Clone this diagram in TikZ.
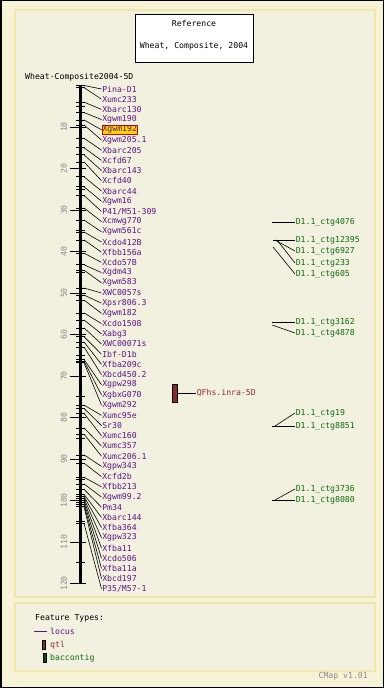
\documentclass[tikz,border=0pt]{standalone}
\usepackage{fontspec}
\setmonofont{DejaVu Sans Mono}
\usetikzlibrary{calc}
\definecolor{bgout}{HTML}{F5F2D6}
\definecolor{bgin}{HTML}{F2F1DF}
\definecolor{panelborder}{HTML}{F0E8A8}
\definecolor{locusc}{HTML}{5A1488}
\definecolor{qtlc}{HTML}{8A2C2C}
\definecolor{bacc}{HTML}{0E6A0E}
\definecolor{scalec}{HTML}{8C8C8C}
\definecolor{hlfill}{HTML}{FFD400}
\begin{document}
\begin{tikzpicture}[x=1bp,y=-1bp,
  font=\ttfamily\fontsize{8.2}{9}\selectfont,
  panel/.style={fill=bgin,draw=panelborder,line width=1.5bp},
  plainlab/.style={},
  hilab/.style={fill=hlfill,draw=red!80!black,line width=0.8bp},
  lab/.style={anchor=west,text=locusc,inner sep=0.6bp},
  link/.style={draw=black,line width=0.6bp},
  tickm/.style={draw=black,line width=0.7bp},
  bacl/.style={anchor=west,text=bacc,inner sep=0.6bp},
  bacln/.style={draw=black,line width=0.6bp},
  scalelab/.style={text=scalec,rotate=90,inner sep=0pt}
]
\useasboundingbox (0,0) rectangle (384,688);
\fill[bgout] (0,0) rectangle (384,688);
\draw[black,line width=1.5bp] (0.75,0.75) rectangle (383.25,687.25);

% main panel and legend panel
\draw[panel] (15,10) rectangle (375,597);
\draw[panel] (15,603) rectangle (375,671);

% title box
\draw[fill=white,draw=black,line width=0.8bp] (135,14) rectangle (253,62);
\node (t1) at (194,23) {Reference};
\node (t2) at (194,46) {Wheat, Composite, 2004};

\node[anchor=west,inner sep=0pt] (mapname) at (25,77) {Wheat-Composite2004-5D};

% scale: major ticks and labels
\foreach \v in {10,20,...,120}{
  \pgfmathsetmacro{\yy}{85.5+4.15*\v}
  \draw[draw=black,line width=0.7bp] (70,\yy) -- (86,\yy);
  \node[scalelab] (s\v) at (64,\yy) {\v};
}
\foreach \v in {5,15,...,115}{
  \pgfmathsetmacro{\yy}{85.5+4.15*\v}
  \draw[tickm] (76,\yy) -- (85,\yy);
}

% markers
\foreach \n/\c/\s [count=\i from 0] in {
 {Pina-D1}/0/plainlab, {Xumc233}/0.5/plainlab, {Xbarc130}/4/plainlab,
 {Xgwm190}/6.5/plainlab, {Xgwm192}/8.3/hilab, {Xgwm205.1}/9.5/plainlab,
 {Xbarc205}/12.7/plainlab, {Xcfd67}/15/plainlab, {Xbarc143}/16.7/plainlab,
 {Xcfd40}/18.4/plainlab, {Xbarc44}/22/plainlab, {Xgwm16}/24.4/plainlab,
 {P41/M51-309}/26.5/plainlab, {Xcmwg770}/29.5/plainlab, {Xgwm561c}/32.4/plainlab,
 {Xcdo412B}/35.3/plainlab, {Xfbb156a}/37.2/plainlab, {Xcdo57B}/40.4/plainlab,
 {Xgdm43}/43.2/plainlab, {Xgwm583}/44.5/plainlab, {XWC0057s}/48.8/plainlab,
 {Xpsr806.3}/50.5/plainlab, {Xgwm182}/51.7/plainlab, {Xcdo1508}/54.8/plainlab,
 {Xabg3}/56.5/plainlab, {XWC00071s}/58.4/plainlab, {Ibf-D1b}/60.5/plainlab,
 {Xfba209c}/61.8/plainlab, {Xbcd450.2}/63/plainlab, {Xgpw298}/66/plainlab,
 {XgbxG070}/66.4/plainlab, {Xgwm292}/66.8/plainlab, {Xumc95e}/77/plainlab,
 {Sr30}/77.8/plainlab, {Xumc160}/79/plainlab, {Xumc357}/82.5/plainlab,
 {Xumc206.1}/84/plainlab, {Xgpw343}/89/plainlab, {Xcfd2b}/91/plainlab,
 {Xfbb213}/94.4/plainlab, {Xgwm99.2}/96/plainlab, {Pm34}/97.3/plainlab,
 {Xbarc144}/98.5/plainlab, {Xfba364}/99/plainlab, {Xgpw323}/99.5/plainlab,
 {Xfba11}/100/plainlab, {Xcdo506}/100.5/plainlab, {Xfba11a}/101/plainlab,
 {Xbcd197}/101.5/plainlab, {P35/M57-1}/105.5/plainlab}{
  \pgfmathsetmacro{\ym}{85.5+4.15*\c}
  \pgfmathsetmacro{\yl}{89+10.2*\i}
  \draw[tickm] (76,\ym) -- (85,\ym);
  \coordinate (a\i) at (84,\ym);
  \node[lab,\s] (m\i) at (101.5,\yl) {\n};
  \draw[link] (a\i) -- (m\i.west);
}

% axis
\coordinate (ax0) at (80,85.5);
\coordinate (ax1) at (80,583.5);
\draw[black,line width=3bp] (ax0) -- (ax1);

% QTL
\node[fill=qtlc,draw=black,line width=0.6bp,minimum width=4.5bp,minimum height=18bp,inner sep=0pt] (q) at (175,393) {};
\node[anchor=west,text=qtlc,inner sep=0.6bp] (ql) at (196,393) {QFhs.inra-5D};
\draw[link] (q.east) -- (ql.west);

% baccontigs
\foreach \n/\yl/\sx/\sy [count=\j] in {
 {D1.1\_ctg4076}/222/272/222, {D1.1\_ctg12395}/240/273/240,
 {D1.1\_ctg6927}/251/275/240, {D1.1\_ctg233}/263/277/240,
 {D1.1\_ctg605}/274/273/247, {D1.1\_ctg3162}/322/272/322,
 {D1.1\_ctg4878}/333/272/325, {D1.1\_ctg19}/413/275/426,
 {D1.1\_ctg8851}/426/272/426, {D1.1\_ctg3736}/489/275/500,
 {D1.1\_ctg8080}/500/272/500}{
  \coordinate (bs\j) at (\sx,\sy);
  \node[bacl] (b\j) at (295,\yl) {\n};
  \draw[bacln] (bs\j) -- (b\j.west);
}

% legend
\node[anchor=west,inner sep=0pt] (ft) at (35,618) {Feature Types:};
\coordinate (lg1) at (34,631);
\coordinate (lg2) at (47,631);
\draw[locusc,line width=0.8bp] (lg1) -- (lg2);
\node[anchor=west,text=locusc,inner sep=0pt] (ll) at (50,631) {locus};
\node[fill=qtlc,draw=black,line width=0.5bp,minimum width=3.5bp,minimum height=9bp,inner sep=0pt] (lq) at (43.5,644.5) {};
\node[anchor=west,text=qtlc,inner sep=0pt] (lql) at (50,645) {qtl};
\node[fill=bacc!70!black,draw=black,line width=0.5bp,minimum width=3.5bp,minimum height=9bp,inner sep=0pt] (lb) at (44.5,657.5) {};
\node[anchor=west,text=bacc,inner sep=0pt] (lbl) at (50,658) {baccontig};
\node[anchor=east,text=scalec,inner sep=0pt] (ver) at (368,676) {CMap v1.01};
\end{tikzpicture}
\end{document}
